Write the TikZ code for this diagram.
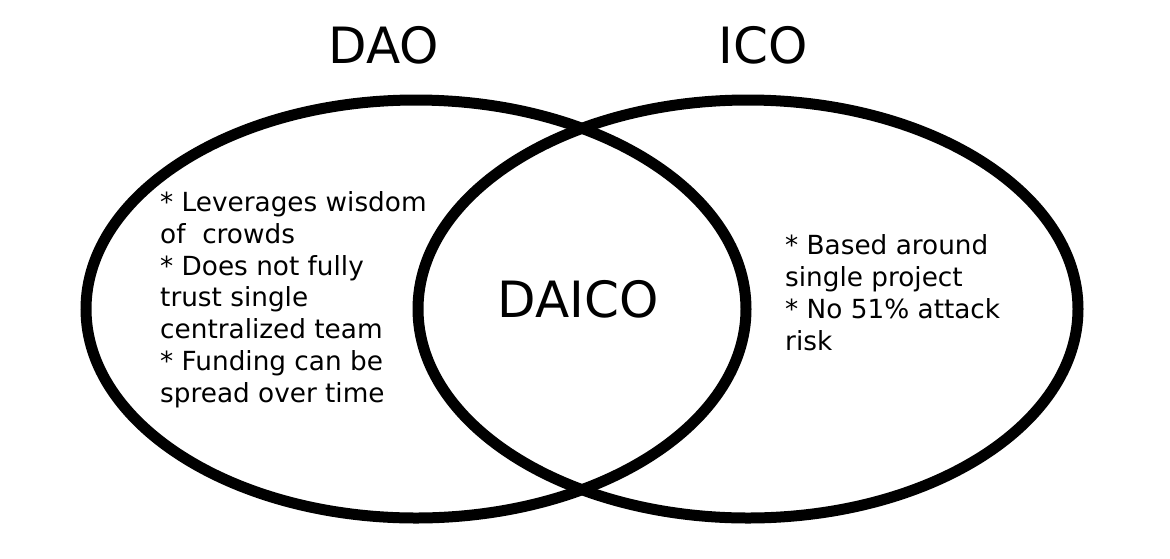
\documentclass[tikz,border=0pt]{standalone}
\usepackage{fontspec}
\setmainfont{DejaVu Sans}
\usetikzlibrary{shapes.geometric, positioning}

\begin{document}
\begin{tikzpicture}[x=1pt, y=-1pt,
  vennset/.style={draw, ellipse, line width=11pt, minimum width=660pt,
    minimum height=418pt, inner sep=0pt},
  settitle/.style={font=\fontsize{50}{60}\selectfont, anchor=base, inner sep=0pt},
  notes/.style={font=\fontsize{26.3}{31.67}\selectfont, align=left,
    anchor=base west, inner sep=0pt}]
  \useasboundingbox (0,0) rectangle (1170,558);
  % the two sets and their titles
  \foreach \cx/\nm/\lbl/\tx in {416/dao/DAO/384, 748/ico/ICO/763}{
    \node[vennset] (\nm-set) at (\cx,309) {};
    \node[settitle] (\nm-title) at (\tx,63) {\lbl};
  }
  \node[settitle] (daico) at (578,317) {DAICO};
  % notes, placed by their last line
  \node[notes] (dao-notes) at (160,402) {* Leverages wisdom\\of\ \ crowds\\* Does not fully\\trust single\\centralized team\\* Funding can be\\spread over time};
  \node[notes] (ico-notes) at (785,350) {* Based around\\single project\\* No 51\% attack\\risk};
\end{tikzpicture}
\end{document}
